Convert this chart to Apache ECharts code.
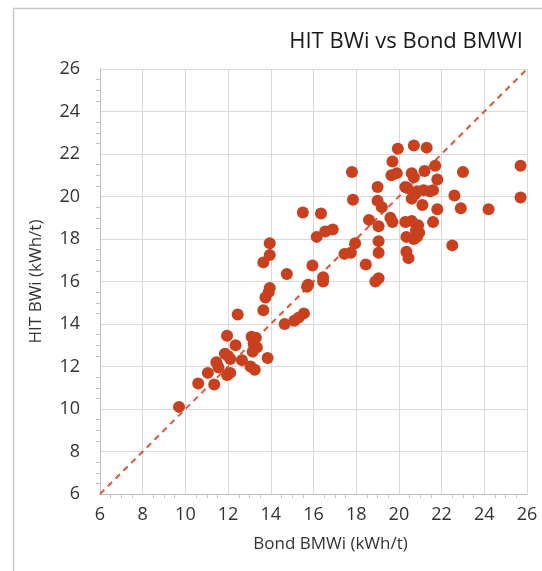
<!DOCTYPE html>
<html><head><meta charset="utf-8">
<script src="https://cdn.jsdelivr.net/npm/echarts@6/dist/echarts.min.js"></script>
<style>html,body{margin:0;padding:0;background:#fff}#c{width:542px;height:571px}</style>
</head><body><div id="c"></div>
<script>
const title = "HIT BWi vs Bond BMWI";
const xName = "Bond BMWi (kWh/t)";
const yName = "HIT BWi (kWh/t)";
const bondBMWi = [9.7,10.6,11.35,11.05,11.45,11.55,11.95,12.35,11.85,12.0,12.1,11.95,12.1,12.65,13.1,13.3,13.2,13.35,13.15,13.05,13.25,13.85,12.45,13.65,14.65,15.1,15.3,15.55,13.75,13.9,13.95,13.65,13.95,13.95,14.75,15.7,15.75,15.95,16.45,16.45,15.5,16.35,16.15,16.55,16.9,17.45,17.75,17.95,17.8,17.85,18.45,18.6,19.05,18.9,19.05,19.05,19.05,19.0,19.2,19.0,19.6,19.7,19.65,19.9,19.7,19.95,20.7,21.3,20.6,20.7,21.2,21.7,21.8,20.3,20.4,20.85,21.15,21.45,21.6,20.6,20.75,21.1,21.8,22.6,22.9,23.0,24.2,25.7,25.7,20.3,20.6,20.9,20.8,20.35,20.85,21.6,20.35,20.45,22.5,20.95,20.7];
const hitBWi =   [10.1,11.2,11.15,11.7,12.2,11.95,13.45,13.0,12.6,12.5,12.35,11.6,11.7,12.3,13.4,13.35,13.1,12.9,12.7,12.0,11.85,12.4,14.45,14.65,14.0,14.15,14.3,14.5,15.25,15.5,15.7,16.9,17.25,17.8,16.35,15.75,15.85,16.75,16.2,16.0,19.25,19.2,18.1,18.35,18.45,17.3,17.35,17.8,21.15,19.85,16.8,18.9,16.15,16.0,17.35,17.9,18.6,19.8,19.5,20.45,19.0,18.8,21.0,21.1,21.65,22.25,22.4,22.3,21.1,20.9,21.2,21.45,20.8,20.45,20.4,20.25,20.3,20.25,20.3,19.9,20.1,19.6,19.4,20.05,19.45,21.15,19.4,21.45,19.95,18.8,18.85,18.65,18.4,18.1,18.1,18.8,17.4,17.1,17.7,18.3,18.0];
const parityLine = [[6,6],[26,26]];

const pts = bondBMWi.map((x,i)=>[x,hitBWi[i]]);
const font = "'Open Sans', sans-serif";
const chart = echarts.init(document.getElementById('c'));
const axisCommon = {
  type:'value', min:6, max:26, interval:2,
  axisLine:{show:true,lineStyle:{color:'#bfbfbf',width:1}},
  axisTick:{show:false},
  minorTick:{show:true,splitNumber:4,length:4,lineStyle:{color:'#bfbfbf'}},
  splitLine:{show:true,lineStyle:{color:'#d9d9d9',width:1}},
  axisLabel:{color:'#333',fontSize:18,fontFamily:font},
  nameTextStyle:{color:'#333',fontSize:17,fontFamily:font}
};
chart.setOption({
  animation:false,
  title:{text:title,right:14,top:26,textStyle:{color:'#1a1a1a',fontSize:22,fontWeight:'normal',fontFamily:font}},
  grid:{left:100,right:15,top:69,bottom:77,containLabel:false},
  xAxis:Object.assign({},axisCommon,{name:xName,nameLocation:'middle',nameGap:42,
    nameTextStyle:Object.assign({},axisCommon.nameTextStyle,{padding:[0,0,0,34]}),
    axisLabel:Object.assign({},axisCommon.axisLabel,{margin:12})}),
  yAxis:Object.assign({},axisCommon,{name:yName,nameLocation:'middle',nameGap:55,
    axisLabel:Object.assign({},axisCommon.axisLabel,{margin:20})}),
  graphic:[{type:'rect',shape:{x:13.5,y:8.5,width:600,height:700},style:{fill:'none',stroke:'#c8c8c8',lineWidth:1.5},silent:true,z:-1}],
  series:[
    {type:'line',data:parityLine,symbol:'none',lineStyle:{color:'#e0553a',width:2,type:[6,5]},z:1},
    {type:'scatter',data:pts,symbolSize:12,itemStyle:{color:'#c8401e',opacity:1},z:2}
  ]
});
</script></body></html>
